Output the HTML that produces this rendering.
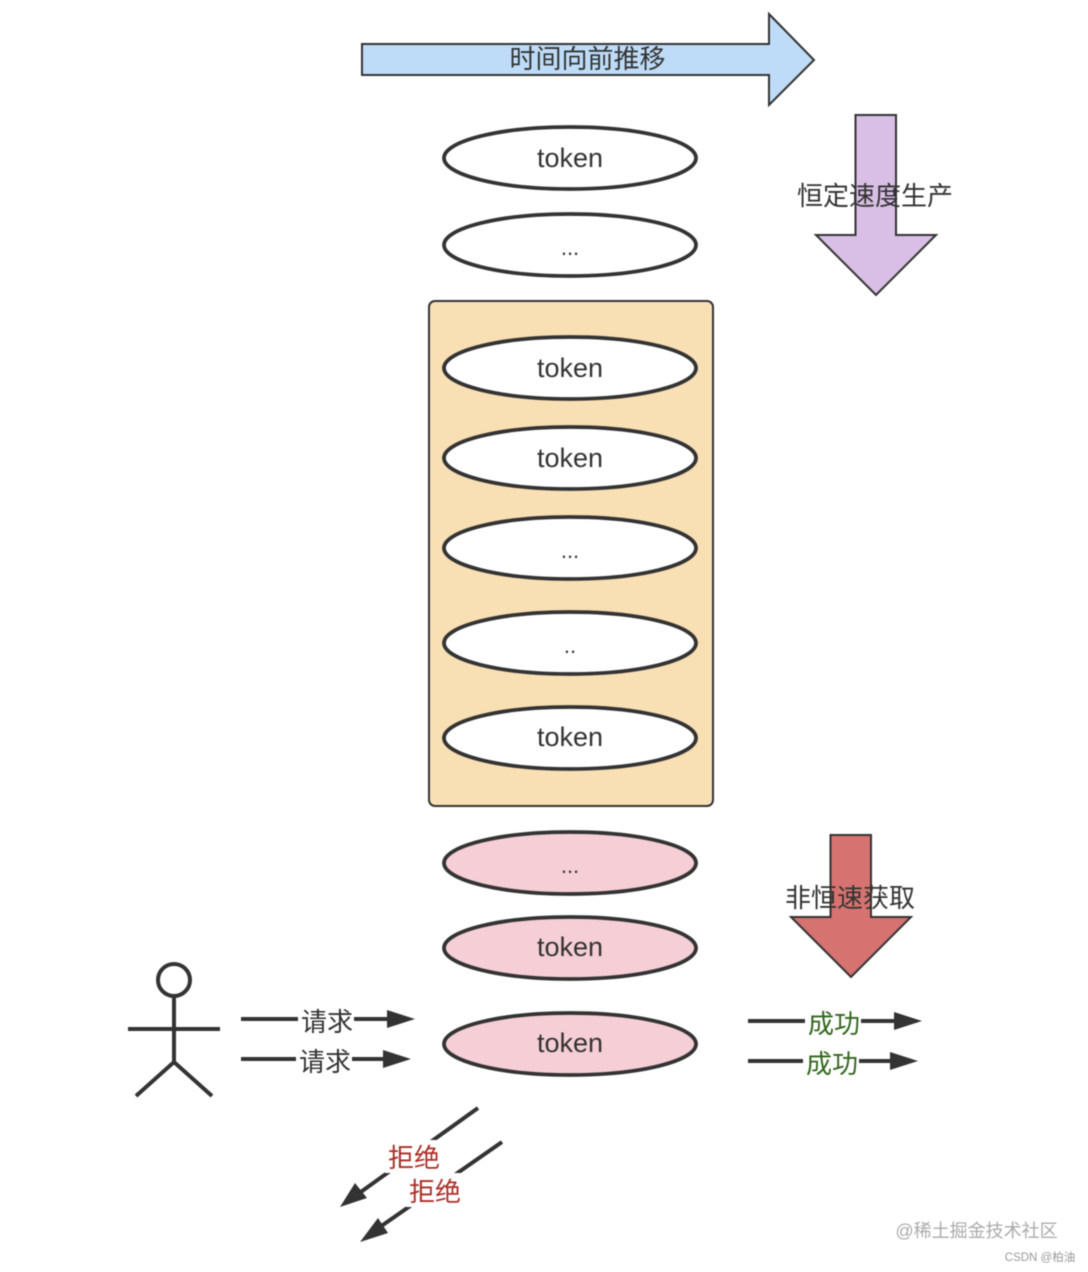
<!DOCTYPE html>
<html><head><meta charset="utf-8"><style>
html,body{margin:0;padding:0;background:#fff}
svg{display:block}
text{font-family:"Liberation Sans","Noto Sans CJK SC",sans-serif;fill:#333;text-anchor:middle}
.z{font-size:26px}
.t{font-size:27px}
.e{stroke:#333;stroke-width:3.800}
.l{stroke:#333;stroke-width:4;fill:none}
</style></head><body>
<svg width="1088" height="1272" viewBox="0 0 1088 1272" xmlns="http://www.w3.org/2000/svg" style="filter:blur(0.4px)">
<rect width="1088" height="1272" fill="#fff"/>
<polygon points="362,44 769,44 769,14 814,60 769,105 769,75 362,75" fill="#bedcf7" stroke="#333" stroke-width="2"/>
<text class="z" x="587.500" y="68">时间向前推移</text>
<polygon points="855.500,115 896,115 896,235 936,235 876,295 816,235 855.500,235" fill="#d9bfe5" stroke="#333" stroke-width="2"/>
<text class="z" x="875" y="205">恒定速度生产</text>
<ellipse class="e" cx="570" cy="158" rx="126" ry="31" fill="#fff"/>
<text class="t" x="570" y="167">token</text>
<ellipse class="e" cx="570" cy="245" rx="126" ry="31" fill="#fff"/>
<text class="t" x="570" y="255" style="font-size:22px">...</text>
<rect x="429" y="301" width="284" height="505" rx="6" fill="#f8dfb4" stroke="#333" stroke-width="2"/>
<ellipse class="e" cx="570" cy="368" rx="126" ry="31" fill="#fff"/>
<text class="t" x="570" y="377">token</text>
<ellipse class="e" cx="570" cy="458" rx="126" ry="31" fill="#fff"/>
<text class="t" x="570" y="467">token</text>
<ellipse class="e" cx="570" cy="548" rx="126" ry="31" fill="#fff"/>
<text class="t" x="570" y="558" style="font-size:22px">...</text>
<ellipse class="e" cx="570" cy="643" rx="126" ry="31" fill="#fff"/>
<text class="t" x="570" y="653" style="font-size:22px">..</text>
<ellipse class="e" cx="570" cy="738" rx="126" ry="31" fill="#fff"/>
<text class="t" x="570" y="746">token</text>
<ellipse class="e" cx="570" cy="863" rx="126" ry="31" fill="#f6ced6"/>
<text class="t" x="570" y="873" style="font-size:22px">...</text>
<ellipse class="e" cx="570" cy="948" rx="126" ry="31" fill="#f6ced6"/>
<text class="t" x="570" y="956">token</text>
<ellipse class="e" cx="570" cy="1044" rx="126" ry="31" fill="#f6ced6"/>
<text class="t" x="570" y="1052">token</text>
<polygon points="830.500,835 871,835 871,917 911,917 851,977 791,917 830.500,917" fill="#d67370" stroke="#333" stroke-width="2"/>
<text class="z" x="850" y="907">非恒速获取</text>
<circle cx="174" cy="980" r="16" fill="#fff" class="l"/>
<path class="l" d="M174,996V1062M128,1029H220M136,1096L174,1062L212,1096"/>
<path class="l" d="M241,1019H390M241,1059H386"/>
<polygon points="387,1010 415,1019 387,1028" fill="#333"/>
<polygon points="383,1050 411,1059 383,1068" fill="#333"/>
<rect x="298" y="1004" width="56" height="30" fill="#fff"/>
<rect x="296" y="1044" width="56" height="30" fill="#fff"/>
<text class="z" x="327" y="1031">请求</text>
<text class="z" x="325" y="1071">请求</text>
<path class="l" d="M748,1021H897M748,1061H893"/>
<polygon points="894,1012 922,1021 894,1030" fill="#333"/>
<polygon points="890,1052 918,1061 890,1070" fill="#333"/>
<rect x="805" y="1006" width="56" height="30" fill="#fff"/>
<rect x="803" y="1046" width="56" height="30" fill="#fff"/>
<text class="z" x="834" y="1033" style="fill:#33661f">成功</text>
<text class="z" x="832" y="1073" style="fill:#33661f">成功</text>
<path class="l" d="M478,1108L358,1194M502,1142L380,1227"/>
<polygon points="340,1207 355,1183 367,1198" fill="#333"/>
<polygon points="360,1242 378,1218 388,1233" fill="#333"/>
<rect x="385" y="1140" width="58" height="33" fill="#fff"/>
<rect x="406" y="1173" width="58" height="34" fill="#fff"/>
<text class="z" x="414" y="1167" style="fill:#ab2d27">拒绝</text>
<text class="z" x="435" y="1201" style="fill:#ab2d27">拒绝</text>
<text x="976.500" y="1237" style="font-size:18px;fill:#aaa">@稀土掘金技术社区</text>
<text x="1040" y="1261" style="font-size:11.500px;fill:#999">CSDN @柏油</text>
</svg>
</body></html>
